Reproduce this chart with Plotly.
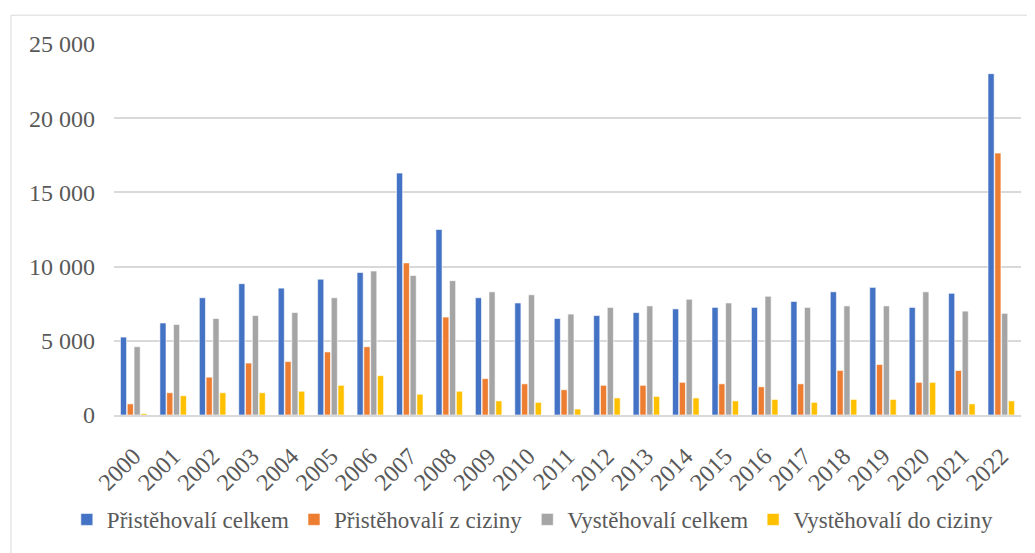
import plotly.graph_objects as go

# data
years = [str(y) for y in range(2000, 2023)]
prist_celkem = [5250, 6200, 7900, 8850, 8550, 9150, 9600, 16300, 12500, 7900, 7550, 6500,
                6700, 6900, 7150, 7250, 7250, 7650, 8300, 8600, 7250, 8200, 23000]
prist_cizina = [750, 1500, 2550, 3500, 3600, 4250, 4600, 10250, 6600, 2450, 2100, 1700,
                2000, 2000, 2200, 2100, 1900, 2100, 3000, 3400, 2200, 3000, 17650]
vyst_celkem = [4600, 6100, 6500, 6700, 6900, 7900, 9700, 9400, 9050, 8300, 8100, 6800,
               7250, 7350, 7800, 7550, 8000, 7250, 7350, 7350, 8300, 7000, 6850]
vyst_cizina = [100, 1300, 1500, 1500, 1600, 2000, 2650, 1400, 1600, 950, 850, 400,
               1150, 1250, 1150, 950, 1050, 850, 1050, 1050, 2200, 750, 950]

series = [
    ("Přistěhovalí celkem", prist_celkem, "#4472C4"),
    ("Přistěhovalí z ciziny", prist_cizina, "#ED7D31"),
    ("Vystěhovalí celkem", vyst_celkem, "#A5A5A5"),
    ("Vystěhovalí do ciziny", vyst_cizina, "#FFC000"),
]

font = "Liberation Serif"
text_color = "#595959"

fig = go.Figure()
for name, vals, color in series:
    fig.add_trace(go.Bar(
        name=name, x=years, y=vals,
        marker=dict(color=color, line=dict(color="white", width=0.6)),
    ))

# page body has an 8px margin, so the figure is 8px smaller and shifted
fig.update_layout(
    width=1027, height=545,
    barmode="group",
    bargap=0.31,
    bargroupgap=0.1,
    plot_bgcolor="white",
    paper_bgcolor="white",
    separators=", ",
    font=dict(family=font, size=24, color=text_color),
    margin=dict(l=106, r=14, t=36, b=136),
    legend=dict(
        orientation="h",
        x=-0.052, xanchor="left",
        y=-0.2815, yanchor="middle",
        font=dict(family=font, size=23, color=text_color),
        traceorder="normal",
        itemwidth=30,
    ),
    xaxis=dict(
        tickangle=-45,
        showgrid=False,
        showline=True, linecolor="#D9D9D9", linewidth=1.5,
        ticklabelstandoff=16,
        automargin=False,
        tickfont=dict(family=font, size=24, color=text_color),
    ),
    yaxis=dict(
        range=[0, 25000],
        dtick=5000,
        tickformat=",d",
        showgrid=True, gridcolor="#D9D9D9", gridwidth=1.5,
        zeroline=False,
        showline=False,
        ticklabelstandoff=18,
        automargin=False,
        tickfont=dict(family=font, size=24, color=text_color),
    ),
    shapes=[dict(
        type="rect", xref="paper", yref="paper",
        x0=-0.1136, x1=1.03, y0=-0.4, y1=1.0777,
        line=dict(color="#D9D9D9", width=1), layer="below",
    )],
)

fig.write_html("out.html")
